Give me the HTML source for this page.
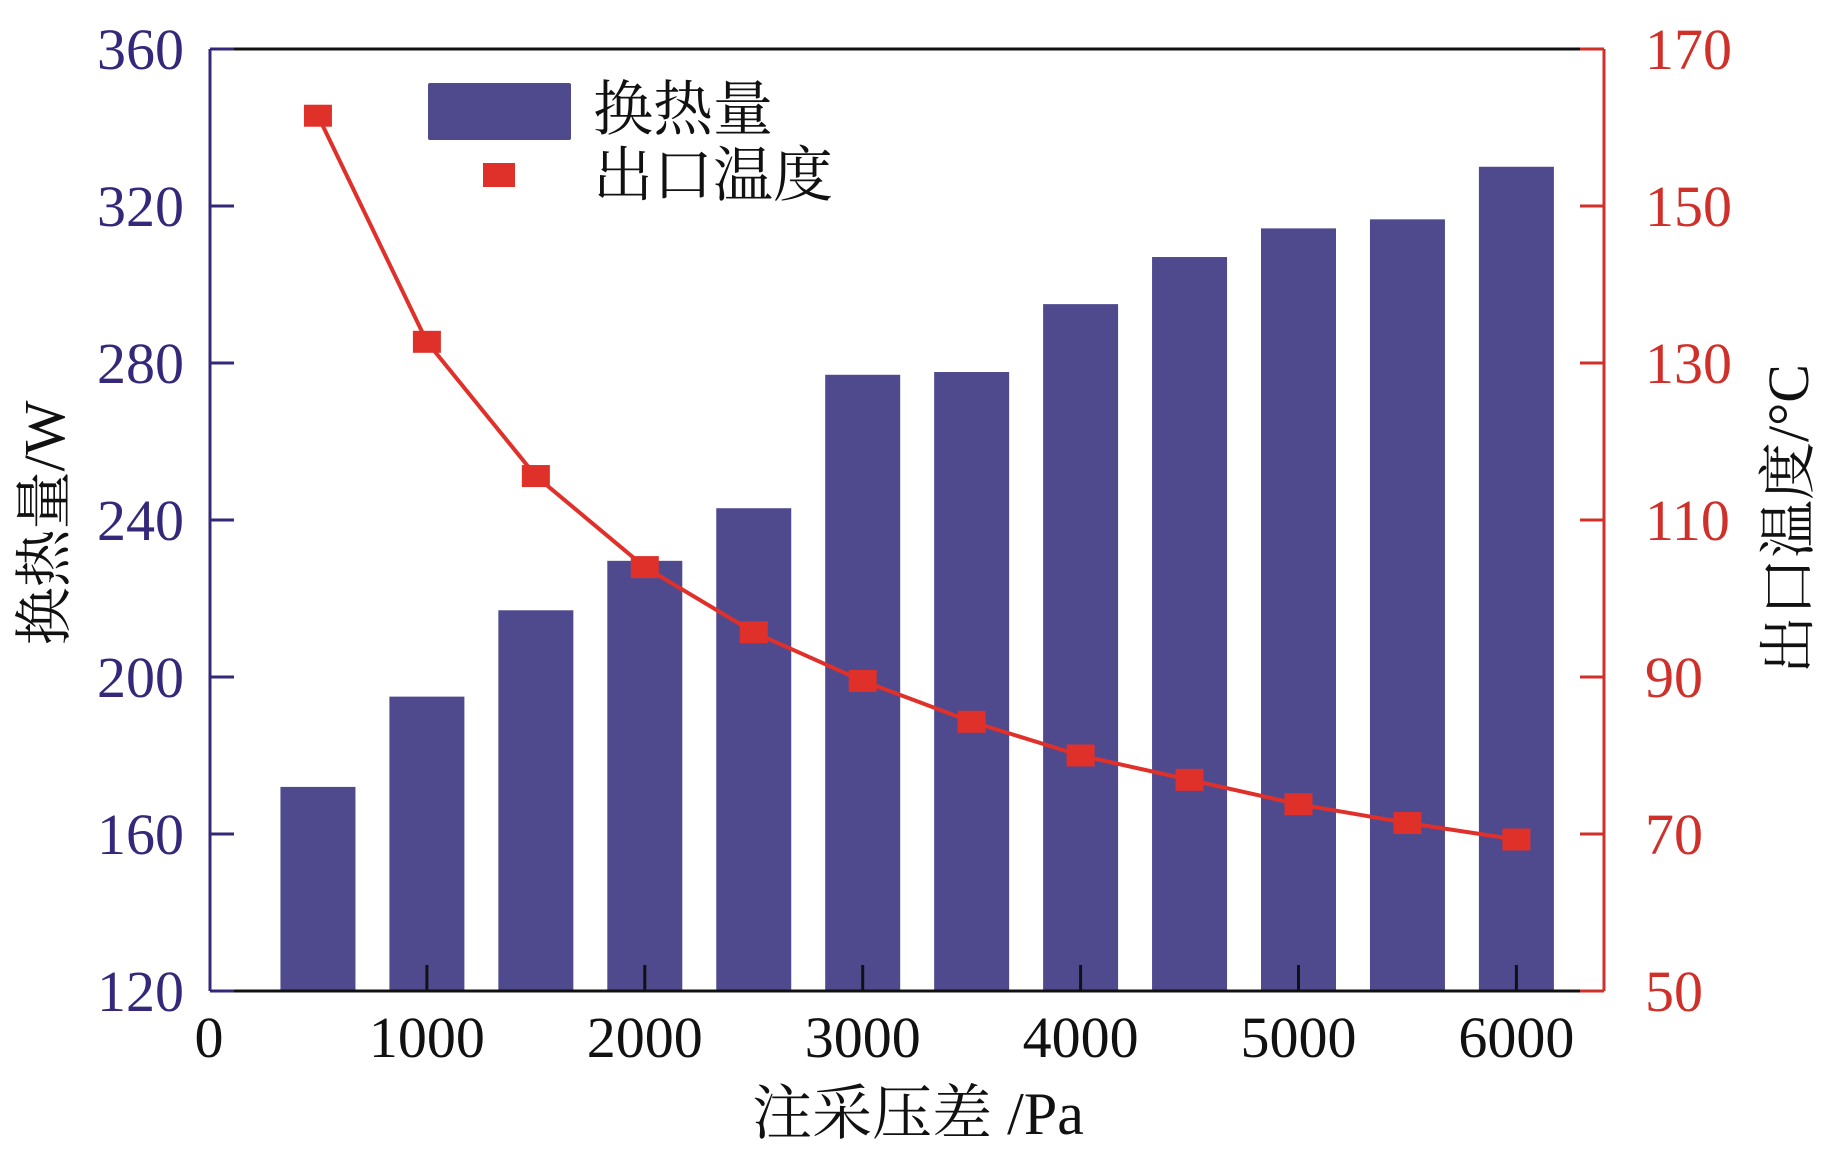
<!DOCTYPE html>
<html><head><meta charset="utf-8"><style>
html,body{margin:0;padding:0;background:#fff;}
svg{display:block;}
text{font-family:"Liberation Serif","Noto Serif CJK SC",serif;}
</style></head><body>
<svg id="chart" width="1829" height="1170" viewBox="0 0 1829 1170" xmlns="http://www.w3.org/2000/svg"></svg>
<script>
const categories = [500,1000,1500,2000,2500,3000,3500,4000,4500,5000,5500,6000];
const heatValues = [172,195,217,229.6,243,277,277.7,295,307,314.3,316.6,330];
const tempValues = [161.5,132.7,115.6,104,95.7,89.5,84.3,80,76.9,73.8,71.4,69.3];
const leftTicks = [120,160,200,240,280,320,360];
const rightTicks = [50,70,90,110,130,150,170];
const xTicks = [0,1000,2000,3000,4000,5000,6000];

const L=210, R=1604, T=49, B=991;
const X0=209, PX=0.2179;
const xs = v => X0 + v*PX;
const yl = v => B - (v-120)/240*(B-T);
const yr = v => B - (v-50)/120*(B-T);
const NS="http://www.w3.org/2000/svg";
const svg=document.getElementById('chart');
function mk(tag, attrs, parent){const e=document.createElementNS(NS,tag);for(const k in attrs)e.setAttribute(k,attrs[k]);(parent||svg).appendChild(e);return e;}

const BLUE="#4f4a8e", RED="#e0302a", PURPLE="#35287a", RRED="#d0302a";

// bars
categories.forEach((c,i)=>{
  const b=mk('rect',{x:xs(c)-37.5,y:yl(heatValues[i]),width:75,height:B-yl(heatValues[i]),fill:BLUE});
  
  
});

// axes
let a;
a=mk('line',{x1:L,y1:T,x2:R,y2:T,stroke:'#111','stroke-width':3});
a=mk('line',{x1:L,y1:B,x2:R,y2:B,stroke:'#111','stroke-width':3});
a=mk('line',{x1:L,y1:T,x2:L,y2:B,stroke:PURPLE,'stroke-width':3});
a=mk('line',{x1:R,y1:T,x2:R,y2:B,stroke:RRED,'stroke-width':3});

leftTicks.forEach(v=>{
  const y=yl(v);
  const t=mk('line',{x1:L,y1:y,x2:L+24,y2:y,stroke:PURPLE,'stroke-width':3});
  
  const tx=mk('text',{x:184,y:y+20,'text-anchor':'end','font-size':58,fill:PURPLE});
  tx.textContent=v;
  
});
rightTicks.forEach(v=>{
  const y=yr(v);
  const t=mk('line',{x1:R-24,y1:y,x2:R,y2:y,stroke:RRED,'stroke-width':3});
  
  const tx=mk('text',{x:1645,y:y+20,'text-anchor':'start','font-size':58,fill:RRED});
  tx.textContent=v;
  
});
xTicks.forEach(v=>{
  const x=xs(v);
  if(v>0){const t=mk('line',{x1:x,y1:B-26,x2:x,y2:B,stroke:'#111','stroke-width':3});
  }
  const tx=mk('text',{x:x,y:1057,'text-anchor':'middle','font-size':58,fill:'#111'});
  tx.textContent=v;
  
});

// line
const pts=categories.map((c,i)=>xs(c)+','+yr(tempValues[i])).join(' ');
const pl=mk('polyline',{points:pts,fill:'none',stroke:RED,'stroke-width':4});

categories.forEach((c,i)=>{
  const m=mk('rect',{x:xs(c)-14,y:yr(tempValues[i])-11,width:28,height:22,fill:RED});
  
  
});

// legend
a=mk('rect',{x:428,y:83,width:143,height:57,fill:BLUE,rx:2});
a=mk('text',{x:593,y:130,'font-size':60,fill:'#111'});a.textContent='换热量';
a=mk('rect',{x:483,y:163,width:32,height:24,fill:RED});
a=mk('text',{x:593,y:196,'font-size':60,fill:'#111'});a.textContent='出口温度';

// titles
a=mk('text',{x:918,y:1134,'text-anchor':'middle','font-size':60,fill:'#111'});a.textContent='注采压差 /Pa';
a=mk('text',{x:0,y:0,'text-anchor':'middle','font-size':58,fill:'#111',transform:'translate(64,523) rotate(-90)'});a.textContent='换热量/W';
a=mk('text',{x:0,y:0,'text-anchor':'middle','font-size':58,fill:'#111',transform:'translate(1808,519) rotate(-90)'});a.textContent='出口温度/°C';
</script>
</body></html>
